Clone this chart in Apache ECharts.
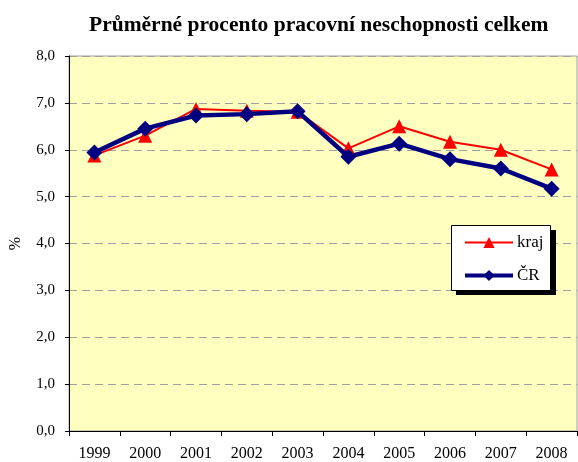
<!DOCTYPE html>
<html>
<head>
<meta charset="utf-8">
<script src="https://cdn.jsdelivr.net/npm/echarts@6/dist/echarts.min.js"></script>
<style>
  html, body { margin: 0; padding: 0; background: #fff; }
  #main { width: 578px; height: 462px; }
</style>
</head>
<body>
<div id="main"></div>
<script>
var chartDom = document.getElementById('main');
var myChart = echarts.init(chartDom);

// data
var years = ['1999', '2000', '2001', '2002', '2003', '2004', '2005', '2006', '2007', '2008'];
var kraj = [5.88, 6.3, 6.87, 6.83, 6.81, 6.03, 6.5, 6.17, 6.0, 5.58];
var cr = [5.94, 6.45, 6.73, 6.76, 6.82, 5.85, 6.13, 5.8, 5.6, 5.17];

const serif = 'Liberation Serif, Times New Roman, serif';

var option = {
  animation: false,
  title: {
    text: 'Průměrné procento pracovní neschopnosti celkem',
    left: 84,
    top: 9,
    textStyle: { fontFamily: serif, fontSize: 21.5, fontWeight: 'bold', color: '#000' }
  },
  // legend frame with hard black shadow
  graphic: [
    { type: 'rect', left: 456, top: 230, z: 90, shape: { width: 100, height: 65 }, style: { fill: '#000' } },
    { type: 'rect', left: 451, top: 225, z: 91, shape: { width: 99, height: 65 }, style: { fill: '#fff', stroke: '#000', lineWidth: 1 } }
  ],
  legend: {
    orient: 'vertical',
    left: 451,
    top: 225,
    z: 100,
    padding: [9, 10, 9, 12],
    itemGap: 16,
    itemWidth: 48,
    itemHeight: 14,
    textStyle: { fontFamily: serif, fontSize: 17, color: '#000', padding: [0, 0, 0, -1] },
    data: [
      { name: 'kraj', lineStyle: { width: 2 } },
      { name: 'ČR', lineStyle: { width: 4 } }
    ]
  },
  grid: {
    left: 67,
    top: 56,
    right: 1,
    bottom: 31,
    show: true,
    backgroundColor: '#FFFFC0',
    borderColor: '#a0a0a0',
    borderWidth: 1
  },
  xAxis: {
    type: 'category',
    data: years,
    boundaryGap: true,
    axisLine: { lineStyle: { color: '#000', width: 1 } },
    axisTick: { show: true, length: 5, lineStyle: { color: '#000' } },
    axisLabel: { fontFamily: serif, fontSize: 16, color: '#000', margin: 15 },
    splitLine: { show: false }
  },
  yAxis: {
    type: 'value',
    min: 0,
    max: 8,
    interval: 1,
    name: '%',
    nameLocation: 'middle',
    nameGap: 45,
    nameTextStyle: { fontFamily: serif, fontSize: 16, color: '#000' },
    axisLine: { show: true, lineStyle: { color: '#000', width: 1 } },
    axisTick: { show: true, length: 4, lineStyle: { color: '#000' } },
    axisLabel: {
      fontFamily: serif, fontSize: 15, color: '#000', margin: 14,
      formatter: function (v) { return v.toFixed(1).replace('.', ','); }
    },
    splitLine: { lineStyle: { color: '#a0a0a0', type: [8, 5], width: 1 } }
  },
  series: [
    {
      name: 'kraj',
      type: 'line',
      data: kraj,
      symbol: 'triangle',
      symbolSize: 14,
      itemStyle: { color: '#ff0000' },
      lineStyle: { color: '#ff0000', width: 2 },
      z: 2
    },
    {
      name: 'ČR',
      type: 'line',
      data: cr,
      symbol: 'diamond',
      symbolSize: 16,
      itemStyle: { color: '#000080' },
      lineStyle: { color: '#000080', width: 4.5 },
      z: 3
    }
  ]
};

option && myChart.setOption(option);
</script>
</body>
</html>
